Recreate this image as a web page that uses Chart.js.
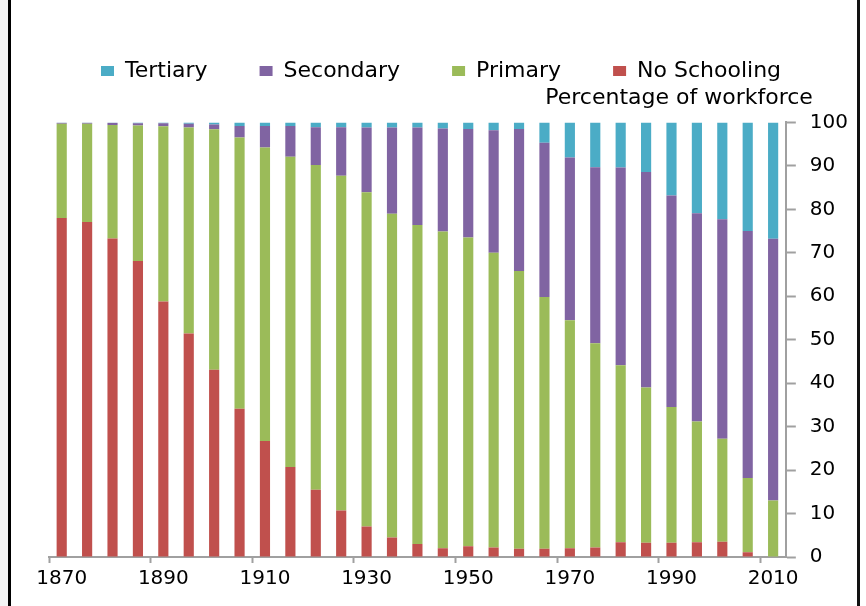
<!DOCTYPE html>
<html>
<head>
<meta charset="utf-8">
<script src="https://cdn.jsdelivr.net/npm/chart.js@4.4.1/dist/chart.umd.min.js"></script>
<style>
  html, body { margin: 0; padding: 0; background: #fff; }
  #wrap { position: relative; width: 866px; height: 606px; overflow: hidden; background: #fff; }
  #c { position: absolute; left: 0; top: 0; }
  .strip { position: absolute; top: 0; height: 606px; }
</style>
</head>
<body>
<div id="wrap">
  <canvas id="c" width="866" height="606"></canvas>
  <div class="strip" style="left:0;width:8px;background:#f4f4f4;"></div>
  <div class="strip" style="left:8px;width:3px;background:#000;"></div>
  <div class="strip" style="left:857px;width:3px;background:#111;"></div>
</div>
<script>
const years = ['1870','1875','1880','1885','1890','1895','1900','1905','1910','1915',
  '1920','1925','1930','1935','1940','1945','1950','1955','1960','1965',
  '1970','1975','1980','1985','1990','1995','2000','2005','2010'];
const noSchooling = [78.0,77.1,73.3,68.1,58.8,51.4,43.1,34.1,26.7,20.7,
  15.5,10.7,7.0,4.5,3.0,2.0,2.5,2.2,1.9,1.9,
  2.0,2.2,3.4,3.3,3.3,3.4,3.5,1.1,0];
const primary = [21.7,22.6,26.1,31.2,40.3,47.4,55.3,62.4,67.5,71.4,
  74.7,77.0,76.9,74.5,73.4,72.9,71.0,67.8,63.9,57.9,
  52.5,47.0,40.7,35.7,31.2,27.8,23.7,17.1,13.0];
const secondary = [0.2,0.2,0.5,0.5,0.7,0.9,1.1,2.7,5.0,7.1,
  8.7,11.2,14.9,19.8,22.4,23.7,25.0,28.2,32.7,35.5,
  37.4,40.5,45.5,49.6,48.7,47.9,50.5,56.8,60.2];
const tertiary = [0.1,0.1,0.1,0.2,0.2,0.3,0.5,0.8,0.8,0.8,
  1.1,1.1,1.2,1.2,1.2,1.4,1.5,1.8,1.5,4.7,
  8.1,10.3,10.4,11.4,16.8,20.9,22.3,25.0,26.8];
const yTicks = [0,10,20,30,40,50,60,70,80,90,100];
const seriesNames = ['No Schooling','Primary','Secondary','Tertiary'];
const seriesColors = ['#C0504D','#9BBB59','#8064A2','#4BACC6'];

const font = 'DejaVu Sans';
const axisColor = '#a0a0a0';
const seriesData = [noSchooling, primary, secondary, tertiary];

// keep the "Percentage of workforce" caption ending just past the value axis line
const titleRight = {
  id: 'titleRight',
  afterLayout(chart) {
    const t = chart.titleBlock;
    if (t) {
      t.right = chart.chartArea.right + 27;
      t.width = t.right - t.left;
    }
  }
};

new Chart(document.getElementById('c'), {
  type: 'bar',
  data: {
    labels: years,
    datasets: seriesNames.map((n, i) => ({
      label: n,
      data: seriesData[i],
      backgroundColor: seriesColors[i],
      borderWidth: 0,
      barPercentage: 0.4,
      categoryPercentage: 1.0
    }))
  },
  plugins: [titleRight],
  options: {
    responsive: false,
    animation: false,
    devicePixelRatio: 1,
    layout: { padding: { top: 8, left: 49, right: 4, bottom: 11 } },
    plugins: {
      tooltip: { enabled: false },
      legend: {
        position: 'top',
        align: 'start',
        reverse: true,
        maxHeight: 77,
        labels: {
          boxWidth: 13,
          boxHeight: 10,
          padding: 52,
          color: '#000',
          font: { family: font, size: 22 }
        }
      },
      title: {
        display: true,
        text: 'Percentage of workforce',
        align: 'end',
        weight: 500,
        color: '#000',
        font: { family: font, size: 22, weight: 'normal' },
        padding: { top: 0, bottom: 11 }
      }
    },
    scales: {
      x: {
        stacked: true,
        offset: true,
        grid: {
          offset: true,
          drawOnChartArea: false,
          tickLength: 6,
          tickWidth: 2,
          tickColor: ctx => (ctx.index % 4 === 0 ? axisColor : 'rgba(0,0,0,0)')
        },
        border: { color: axisColor, width: 2 },
        ticks: {
          autoSkip: false,
          maxRotation: 0,
          minRotation: 0,
          padding: 4,
          color: '#000',
          font: { family: font, size: 20 },
          callback: (v, i) => (i % 4 === 0 ? years[i] : '')
        }
      },
      y: {
        stacked: true,
        position: 'right',
        min: 0,
        max: 100,
        afterBuildTicks: s => { s.ticks = yTicks.map(v => ({ value: v })); },
        grid: {
          drawOnChartArea: false,
          tickLength: 10,
          tickWidth: 2,
          color: axisColor
        },
        border: { color: axisColor, width: 2 },
        ticks: {
          padding: 14,
          color: '#000',
          font: { family: font, size: 20 }
        }
      }
    }
  }
});
</script>
</body>
</html>
